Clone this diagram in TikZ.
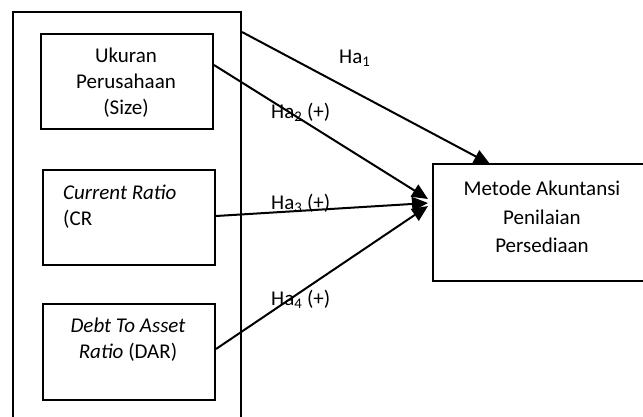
\documentclass[tikz,border=0pt]{standalone}
\usepackage{fontspec}
\setmainfont{Carlito}
\usetikzlibrary{arrows.meta,calc}
\begin{document}
\begin{tikzpicture}[x=1pt,y=-1pt,
  box/.style={draw,line width=2pt,inner sep=0pt,anchor=north west},
  txt/.style={font=\fontsize{21}{26}\selectfont,inner sep=0pt},
  arr/.style={line width=2pt,-{Triangle[length=16pt,width=14pt]}}]
\clip (0,0) rectangle (643,416);
% boxes
\node[box,minimum width=228pt,minimum height=440pt] (outer) at (12,11) {};
\node[box,minimum width=172pt,minimum height=95pt] (size) at (40,33) {};
\node[box,minimum width=172pt,minimum height=95pt] (cr) at (42,169) {};
\node[box,minimum width=172pt,minimum height=96pt] (dar) at (42,303) {};
\node[box,minimum width=250pt,minimum height=117pt] (dep) at (432,163) {};
% texts
\node[txt,align=center] (tsize) at (126,83) {Ukuran\\Perusahaan\\(Size)};
\node[txt,align=left,anchor=west] (tcr) at (63,207) {\textit{Current Ratio}\\(CR};
\node[txt,align=center] (tdar) at (128,340) {\textit{Debt To Asset}\\\textit{Ratio} (DAR)};
\node[txt,align=center,font=\fontsize{21}{28.5}\selectfont] (tdep) at (542,217) {Metode Akuntansi\\Penilaian\\Persediaan};
% connector end points
\coordinate (s1) at ($(outer.north east)+(0,21)$);
\coordinate (e1) at (490,164);
\coordinate (s2) at ($(size.north east)+(0,32)$);
\coordinate (e2) at (428,199);
\coordinate (s3) at ($(cr.north east)+(0,47)$);
\coordinate (e3) at (428,203);
\coordinate (s4) at ($(dar.north east)+(0,46)$);
\coordinate (e4) at (428,206);
\draw[arr] (s1) -- (e1);
\draw[arr] (s2) -- (e2);
\draw[arr] (s3) -- (e3);
\draw[arr] (s4) -- (e4);
% labels
\node[txt,anchor=base west] (h1) at (339,63) {Ha\textsubscript{1}};
\node[txt,anchor=base west] (h2) at (271,118) {Ha\textsubscript{2} (+)};
\node[txt,anchor=base west] (h3) at (271,209) {Ha\textsubscript{3} (+)};
\node[txt,anchor=base west] (h4) at (271,305) {Ha\textsubscript{4} (+)};
\end{tikzpicture}
\end{document}
